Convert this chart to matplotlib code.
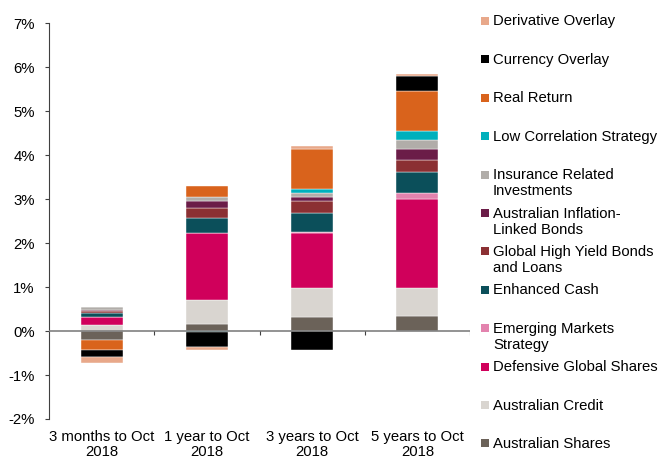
import matplotlib
matplotlib.use('Agg')
import matplotlib.pyplot as plt
import numpy as np
from matplotlib.patches import Rectangle

plt.rcParams['font.family'] = ['Liberation Sans', 'DejaVu Sans']
plt.rcParams['font.size'] = 10.7

categories = ['3 months to Oct\n2018', '1 year to Oct\n2018', '3 years to Oct\n2018', '5 years to Oct\n2018']

# series in stacking order (bottom first), values in %
series = ['Australian Shares', 'Australian Credit', 'Defensive Global Shares',
          'Emerging Markets\nStrategy', 'Enhanced Cash', 'Global High Yield Bonds\nand Loans',
          'Australian Inflation-\nLinked Bonds', 'Insurance Related\nInvestments',
          'Low Correlation Strategy', 'Real Return', 'Currency Overlay', 'Derivative Overlay']

aus_shares = [-0.20, 0.16, 0.33, 0.34]
aus_credit = [0.14, 0.55, 0.65, 0.65]
def_global = [0.17, 1.52, 1.25, 2.01]
emerging = [0.00, 0.01, 0.02, 0.15]
enh_cash = [0.10, 0.34, 0.43, 0.47]
global_hy = [0.05, 0.23, 0.28, 0.27]
aus_infl = [0.03, 0.14, 0.09, 0.24]
insurance = [0.05, 0.09, 0.10, 0.21]
low_corr = [0.00, -0.03, 0.09, 0.20]
real_return = [-0.24, 0.25, 0.90, 0.93]
currency = [-0.14, -0.33, -0.43, 0.34]
derivative = [-0.14, -0.06, 0.08, 0.04]

values = [aus_shares, aus_credit, def_global, emerging, enh_cash, global_hy,
          aus_infl, insurance, low_corr, real_return, currency, derivative]

colors = ['#6B6259', '#D9D5D0', '#D0005B', '#E383AE', '#0B4F5A', '#8B3033',
          '#6B1D48', '#B1ADA9', '#00B0BC', '#D9631C', '#000000', '#E8A88A']

W, H = 660, 458
fig = plt.figure(figsize=(W / 100, H / 100), dpi=100)
ax = fig.add_axes([49 / W, 1 - 419 / H, (470 - 49) / W, (419 - 23.3) / H])

x = np.arange(len(categories))
pos_base = np.zeros(len(categories))
neg_base = np.zeros(len(categories))
for vals, col in zip(values, colors):
    v = np.array(vals)
    bottom = np.where(v >= 0, pos_base, neg_base)
    ax.bar(x, v, 0.4, bottom=bottom, color=col, edgecolor='white', linewidth=0.3)
    pos_base = pos_base + np.where(v >= 0, v, 0)
    neg_base = neg_base + np.where(v < 0, v, 0)

ax.set_xlim(-0.5, 3.5)
ax.set_ylim(-2, 7)
ax.set_yticks(range(-2, 8))
ax.set_yticklabels([f'{t}%' for t in range(-2, 8)])
ax.set_xticks(x)
ax.set_xticklabels(categories, linespacing=1.05)
ax.tick_params(axis='x', length=0, pad=8)
ax.tick_params(axis='y', length=3.2, width=0.8, pad=7, color='#404040')

for s in ['top', 'right', 'bottom']:
    ax.spines[s].set_visible(False)
ax.spines['left'].set_color('#404040')
ax.spines['left'].set_linewidth(0.8)

ax.axhline(0, color='#808080', linewidth=1.2, zorder=3)
ax.vlines([0.5, 1.5, 2.5, 3.5], -0.09, 0, color='#404040', linewidth=0.8, zorder=3)

# legend, top entry is the last series
for i, (name, col) in enumerate(zip(series[::-1], colors[::-1])):
    yc = 21 + 38.4 * i
    fig.add_artist(Rectangle((481 / W, 1 - (yc + 4) / H), 8 / W, 8 / H,
                             transform=fig.transFigure, color=col, linewidth=0))
    fig.text(493 / W, 1 - (yc - 6.5) / H, name, ha='left', va='top', linespacing=1.2)

fig.savefig('out.png', dpi=100)
